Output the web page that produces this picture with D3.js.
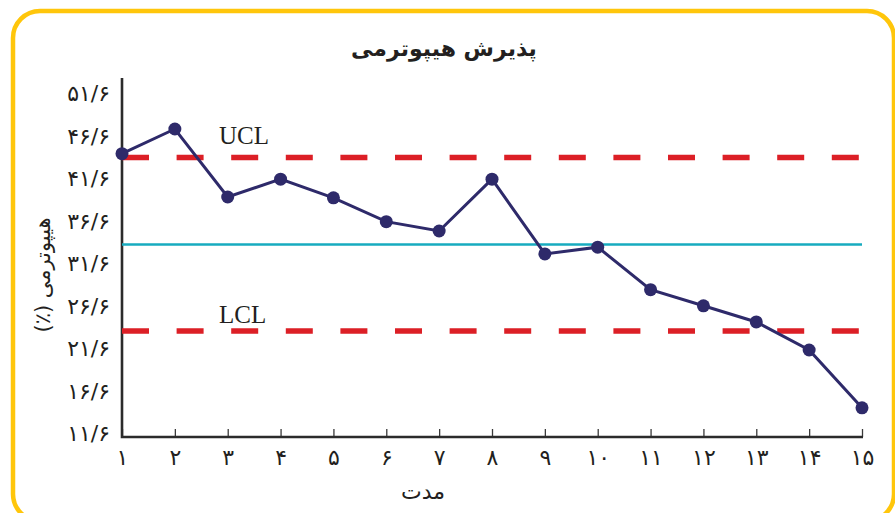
<!DOCTYPE html>
<html>
<head>
<meta charset="utf-8">
<script src="https://cdn.jsdelivr.net/npm/d3@7/dist/d3.min.js"></script>
<style>
  html, body { margin: 0; padding: 0; background: #fff; }
  svg { display: block; }
  .fa { font-family: "DejaVu Sans", sans-serif; fill: #231f20; }
  .limit-label { font-family: "Liberation Serif", serif; font-size: 25px; fill: #231f20; }
</style>
</head>
<body>
<svg id="chart" width="895" height="513"></svg>
<script>
// data
var periods = [1, 2, 3, 4, 5, 6, 7, 8, 9, 10, 11, 12, 13, 14, 15];
var periodLabels = ['۱', '۲', '۳', '۴', '۵', '۶', '۷', '۸', '۹', '۱۰', '۱۱', '۱۲', '۱۳', '۱۴', '۱۵'];
var hypothermia = [44.7, 47.6, 39.6, 41.7, 39.5, 36.7, 35.6, 41.7, 32.9, 33.7, 28.7, 26.8, 24.9, 21.6, 14.8];
var yTicks = [11.6, 16.6, 21.6, 26.6, 31.6, 36.6, 41.6, 46.6, 51.6];
var yTickLabels = ['۱۱/۶', '۱۶/۶', '۲۱/۶', '۲۶/۶', '۳۱/۶', '۳۶/۶', '۴۱/۶', '۴۶/۶', '۵۱/۶'];
var limits = [
    {name: 'UCL', value: 44.25},
    {name: 'LCL', value: 23.85}
];
var centerLine = 34.0;

var title = 'پذیرش هیپوترمی';
var xTitle = 'مدت';
var yTitle = 'هیپوترمی (٪)';

var svg = d3.select('#chart');

// yellow rounded frame
svg.append('rect')
    .attr('x', 13).attr('y', 11)
    .attr('width', 881).attr('height', 510)
    .attr('rx', 27).attr('ry', 27)
    .attr('fill', 'none')
    .attr('stroke', '#ffc60b')
    .attr('stroke-width', 4.5);

var x = d3.scaleLinear().domain([1, 15]).range([122, 862]);
var y = d3.scaleLinear().domain([11.6, 51.6]).range([435, 95]);
var axisBottomY = 437;

// x axis, ticks pointing up into the plot
var xAxis = d3.axisBottom(x)
    .tickValues(periods)
    .tickSizeInner(-8)
    .tickSizeOuter(0)
    .tickPadding(12)
    .tickFormat((d, i) => periodLabels[i]);

var gX = svg.append('g')
    .attr('transform', 'translate(0,' + axisBottomY + ')')
    .call(xAxis);
gX.select('.domain').remove();
gX.selectAll('.tick line').attr('stroke', '#3a3a3a').attr('stroke-width', 1.3);
gX.selectAll('.tick text')
    .attr('class', 'fa')
    .style('font-size', '22px');

// y axis, labels only
var yAxis = d3.axisLeft(y)
    .tickValues(yTicks)
    .tickSize(0)
    .tickPadding(12)
    .tickFormat((d, i) => yTickLabels[i]);

var gY = svg.append('g')
    .attr('transform', 'translate(' + x(1) + ',0)')
    .call(yAxis);
gY.select('.domain').remove();
gY.selectAll('.tick text')
    .attr('class', 'fa')
    .attr('dy', '0.26em')
    .style('font-size', '22px');

// axis lines
svg.append('path')
    .attr('d', 'M' + x(1) + ',78V' + axisBottomY + 'H' + (x(15) + 1))
    .attr('fill', 'none')
    .attr('stroke', '#2b2b2b')
    .attr('stroke-width', 2.6);

// control limits
svg.selectAll('line.limit')
    .data(limits)
    .enter().append('line')
    .attr('class', 'limit')
    .attr('x1', x(1)).attr('x2', x(15))
    .attr('y1', d => y(d.value)).attr('y2', d => y(d.value))
    .attr('stroke', '#dc1f26')
    .attr('stroke-width', 5.5)
    .attr('stroke-dasharray', '27,27.6');

svg.selectAll('text.limit-label')
    .data(limits)
    .enter().append('text')
    .attr('class', 'limit-label')
    .attr('x', 219)
    .attr('y', d => y(d.value) - (d.name === 'UCL' ? 13.5 : 8))
    .text(d => d.name);

// center line
svg.append('line')
    .attr('x1', x(1)).attr('x2', x(15))
    .attr('y1', y(centerLine)).attr('y2', y(centerLine))
    .attr('stroke', '#17abbf')
    .attr('stroke-width', 2.5);

// data line + points
var line = d3.line()
    .x((d, i) => x(periods[i]))
    .y(d => y(d));

svg.append('path')
    .datum(hypothermia)
    .attr('d', line)
    .attr('fill', 'none')
    .attr('stroke', '#2e2a6a')
    .attr('stroke-width', 3);

svg.selectAll('circle.pt')
    .data(hypothermia)
    .enter().append('circle')
    .attr('class', 'pt')
    .attr('cx', (d, i) => x(periods[i]))
    .attr('cy', d => y(d))
    .attr('r', 6.5)
    .attr('fill', '#2e2a6a');

// titles
svg.append('text')
    .attr('class', 'fa')
    .attr('x', 444).attr('y', 56)
    .attr('text-anchor', 'middle')
    .attr('direction', 'rtl')
    .style('font-size', '22px')
    .style('font-weight', 'bold')
    .text(title);

svg.append('text')
    .attr('class', 'fa')
    .attr('x', 423).attr('y', 499)
    .attr('text-anchor', 'middle')
    .attr('direction', 'rtl')
    .style('font-size', '22px')
    .text(xTitle);

svg.append('text')
    .attr('class', 'fa')
    .attr('transform', 'translate(50,275) rotate(-90)')
    .attr('text-anchor', 'middle')
    .attr('direction', 'rtl')
    .style('font-size', '21px')
    .text(yTitle);
</script>
</body>
</html>
